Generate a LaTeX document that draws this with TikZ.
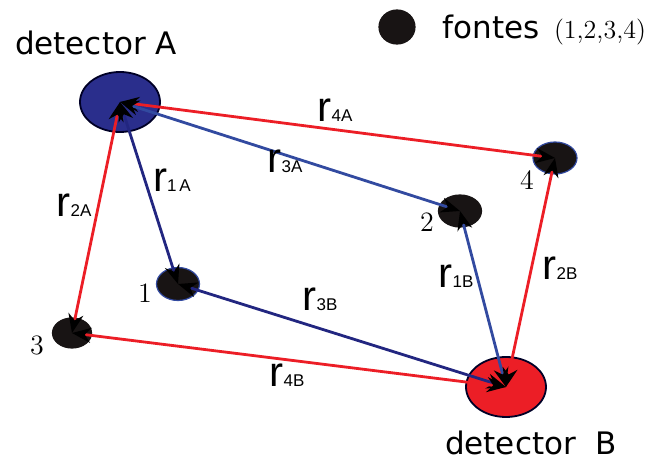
\documentclass[tikz,border=0pt]{standalone}
\usepackage{fontspec}
\usepackage{tikz}
\usetikzlibrary{positioning, arrows.meta, shapes.geometric}

\newfontfamily\dvsans{DejaVu Sans}
\newfontfamily\lsans{Liberation Sans}

\definecolor{detred}{RGB}{236,30,38}
\definecolor{detnavy}{RGB}{42,46,140}
\definecolor{linenavy}{RGB}{34,38,128}
\definecolor{lineblue}{RGB}{50,74,160}
\definecolor{srcblack}{RGB}{24,20,20}

% r with subscript
\newcommand{\rdist}[1]{{\lsans\fontsize{21}{21}\selectfont r}{\lsans\fontsize{8.5}{8.5}\selectfont #1}}

\begin{document}
\begin{tikzpicture}[
            x=0.5pt, y=-0.5pt,
            detector/.style={ellipse, draw=black!85!blue, line width=0.9pt, inner sep=0pt, minimum width=40pt, minimum height=30pt},
            source/.style={ellipse, fill=srcblack, draw=srcblack, line width=0.6pt, inner sep=0pt},
            ray/.style={line width=1.4pt, {Stealth[color=black, length=9.5pt, width=7.5pt]}-{Stealth[color=black, length=9.5pt, width=7.5pt]}},
            dettext/.style={font=\dvsans\fontsize{15.5}{15.5}\selectfont},
            numtext/.style={font=\fontsize{14}{14}\selectfont}
        ]
            \useasboundingbox (0,0) rectangle (650,465);

            \node[detector, fill=detnavy] (detA) at (120,102) {};
            \node[detector, fill=detred] (detB) at (506,387) {};
            \node[source, draw=lineblue, minimum width=21.5pt, minimum height=16.5pt] (src1) at (178,284) {};
            \node[source, minimum width=21.5pt, minimum height=16pt] (src2) at (460,211) {};
            \node[source, minimum width=19.5pt, minimum height=15pt] (src3) at (72,333) {};
            \node[source, draw=lineblue, minimum width=22pt, minimum height=16pt] (src4) at (555,158) {};

            \node[dettext] (labA) at (96,43) {detector A};
            \node[dettext] (labB) at (531,443) {detector\ \ B};
            \node[source, minimum width=18pt, minimum height=17pt] (legdot) at (397,27) {};
            \node[dettext, right=10pt of legdot] (legtext) {fontes};
            \node[font=\fontsize{13}{13}\selectfont] (legnums) at (600,32) {(1,2,3,4)};

            \node[numtext] (num1) at (145,293) {1};
            \node[numtext] (num2) at (427,222) {2};
            \node[numtext] (num3) at (37,345) {3};
            \node[numtext] (num4) at (527,180) {4};

            \draw[ray, detred] (detA.center) -- (src4.center);
            \draw[ray, lineblue] (detA.center) -- (src2.center);
            \draw[ray, linenavy] (detA.center) -- (src1.center);
            \draw[ray, detred] (detA.center) -- (src3.center);
            \draw[ray, linenavy] (src1.center) -- (detB.center);
            \draw[ray, detred] (src3.center) -- (detB.center);
            \draw[ray, lineblue] (src2.center) -- (detB.center);
            \draw[ray, detred] (src4.center) -- (detB.center);

            \node (r4A) at (335,110) {\rdist{4A}};
            \node (r3A) at (285,161) {\rdist{3A}};
            \node (r1A) at (172,180) {\rdist{1\,A}};
            \node (r2A) at (74,205) {\rdist{2A}};
            \node (r3B) at (320,299) {\rdist{3B}};
            \node (r4B) at (287,375) {\rdist{4B}};
            \node (r1B) at (456,276) {\rdist{1B}};
            \node (r2B) at (560,268) {\rdist{2B}};
        \end{tikzpicture}
\end{document}
